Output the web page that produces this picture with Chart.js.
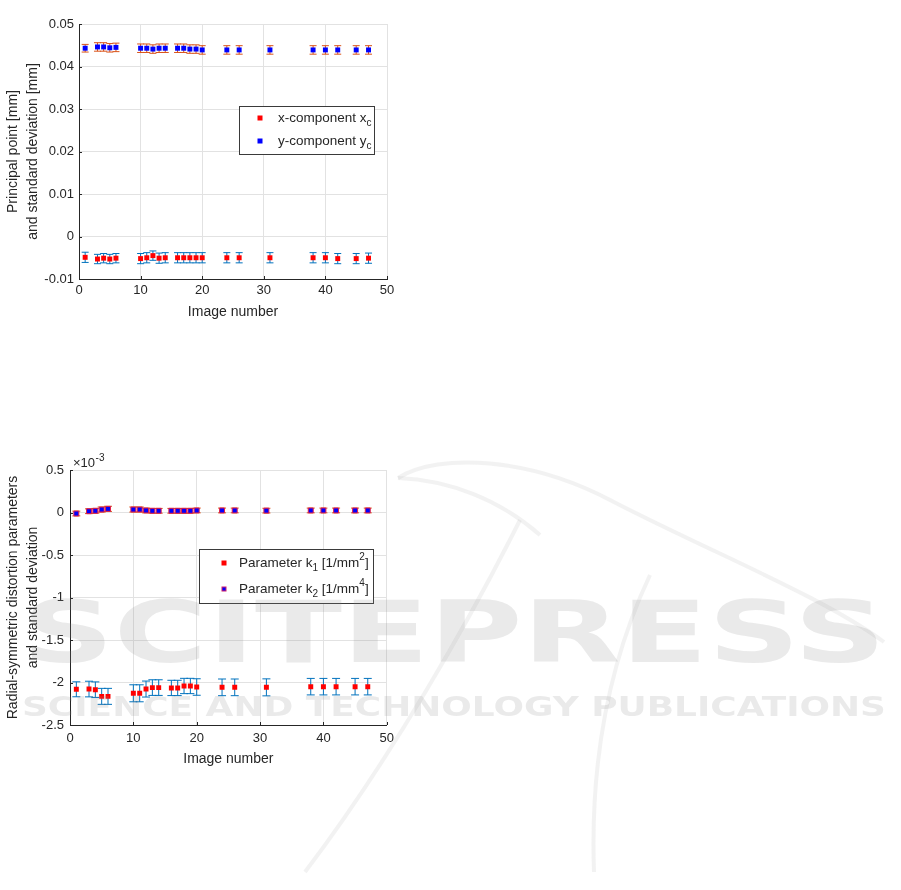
<!DOCTYPE html>
<html>
<head>
<meta charset="utf-8">
<script src="https://cdn.jsdelivr.net/npm/chart.js@4.4.1/dist/chart.umd.min.js"></script>
<style>
  html, body { margin: 0; padding: 0; background: #fff; width: 901px; height: 890px; overflow: hidden; }
  canvas { position: absolute; left: 0; }
  #c1 { top: 0; }
  #c2 { top: 440px; }
  #wm { position: absolute; left: 0; top: 0; pointer-events: none; }
</style>
</head>
<body>
<canvas id="c1" width="400" height="330" style="width:400px;height:330px"></canvas>
<canvas id="c2" width="400" height="330" style="width:400px;height:330px"></canvas>
<svg id="wm" width="901" height="890" viewBox="0 0 901 890">
  <g fill="none" stroke="#8c8c8c" stroke-opacity="0.11" stroke-width="4">
    <path d="M 398 478 C 440 452, 530 458, 610 500 C 710 552, 820 595, 884 642"/>
    <path d="M 398 478 C 450 480, 500 500, 540 535"/>
    <path d="M 520 520 C 470 620, 390 760, 305 872"/>
    <path d="M 650 575 C 610 660, 590 760, 594 872"/>
  </g>
  <g fill="#8c8c8c" fill-opacity="0.18" font-family="DejaVu Sans" font-weight="bold">
    <text x="22" y="662" font-size="86" textLength="864" lengthAdjust="spacingAndGlyphs">SCITEPRESS</text>
    <text x="22" y="716" font-size="27" textLength="864" lengthAdjust="spacingAndGlyphs">SCIENCE AND TECHNOLOGY PUBLICATIONS</text>
  </g>
</svg>
<script>
"use strict";
const FONT = "'Liberation Sans', Arial, sans-serif";
const INK = "#262626";
const GRID = "#e2e2e2";

// image numbers (x axis, both charts)
const IMAGES = [1, 3, 4, 5, 6, 10, 11, 12, 13, 14, 16, 17, 18, 19, 20, 24, 26, 31, 38, 40, 42, 45, 47];
const X_TICKS = [0, 10, 20, 30, 40, 50];

// chart 1: principal point [mm]
const XC     = [-0.0049, -0.0053, -0.0051, -0.0053, -0.0051, -0.0052, -0.0050, -0.0045, -0.0051, -0.0050, -0.0050, -0.0050, -0.0050, -0.0050, -0.0050, -0.0050, -0.0050, -0.0050, -0.0050, -0.0050, -0.0052, -0.0052, -0.0051];
const XC_STD = [0.0012, 0.0011, 0.0011, 0.0011, 0.0011, 0.0012, 0.0012, 0.0011, 0.0012, 0.0012, 0.0012, 0.0012, 0.0012, 0.0012, 0.0012, 0.0012, 0.0012, 0.0012, 0.0012, 0.0012, 0.0012, 0.0012, 0.0012];
const YC     = [0.0443, 0.0446, 0.0446, 0.0444, 0.0445, 0.0443, 0.0443, 0.0441, 0.0443, 0.0443, 0.0443, 0.0443, 0.0441, 0.0441, 0.0439, 0.0439, 0.0439, 0.0439, 0.0439, 0.0439, 0.0439, 0.0439, 0.0439];
const YC_STD = [0.0009, 0.0010, 0.0010, 0.0010, 0.0010, 0.0010, 0.0010, 0.0010, 0.0010, 0.0010, 0.0010, 0.0010, 0.0010, 0.0010, 0.0010, 0.0010, 0.0010, 0.0010, 0.0010, 0.0010, 0.0010, 0.0010, 0.0010];
const Y1_TICKS  = [-0.01, 0, 0.01, 0.02, 0.03, 0.04, 0.05];
const Y1_LABELS = ["-0.01", "0", "0.01", "0.02", "0.03", "0.04", "0.05"];

// chart 2: radial-symmetric distortion (x 10^-3)
const K1     = [-2.080, -2.077, -2.085, -2.163, -2.163, -2.127, -2.127, -2.077, -2.060, -2.060, -2.064, -2.064, -2.041, -2.041, -2.053, -2.057, -2.057, -2.057, -2.049, -2.049, -2.049, -2.049, -2.049];
const K1_STD = [0.088, 0.092, 0.092, 0.094, 0.094, 0.100, 0.100, 0.094, 0.092, 0.092, 0.090, 0.090, 0.090, 0.090, 0.097, 0.098, 0.098, 0.100, 0.097, 0.097, 0.097, 0.097, 0.097];
const K2     = [-0.012, 0.015, 0.020, 0.035, 0.043, 0.035, 0.035, 0.024, 0.020, 0.020, 0.020, 0.020, 0.020, 0.020, 0.024, 0.024, 0.024, 0.022, 0.024, 0.024, 0.024, 0.024, 0.024];
const K2_STD = [0.028, 0.028, 0.028, 0.030, 0.030, 0.030, 0.030, 0.028, 0.028, 0.028, 0.028, 0.028, 0.028, 0.028, 0.028, 0.028, 0.028, 0.028, 0.028, 0.028, 0.028, 0.028, 0.028];
const Y2_TICKS  = [-2.5, -2, -1.5, -1, -0.5, 0, 0.5];
const Y2_LABELS = ["-2.5", "-2", "-1.5", "-1", "-0.5", "0", "0.5"];

const pts = ys => IMAGES.map((x, i) => ({ x, y: ys[i] }));

// error bars drawn through the chart's own scales
const errorBars = {
  id: "errorBars",
  beforeDatasetsDraw(chart) {
    const { ctx, scales: { x, y } } = chart;
    chart.data.datasets.forEach(ds => {
      if (!ds.errors) return;
      ctx.save();
      ctx.strokeStyle = ds.errorColor;
      ctx.lineWidth = 1;
      const cap = ds.capHalf || 3.5;
      ds.data.forEach((p, i) => {
        const px = x.getPixelForValue(p.x);
        const top = y.getPixelForValue(p.y + ds.errors[i]);
        const bot = y.getPixelForValue(p.y - ds.errors[i]);
        ctx.beginPath();
        ctx.moveTo(px, top); ctx.lineTo(px, bot);
        ctx.moveTo(px - cap, top); ctx.lineTo(px + cap, top);
        ctx.moveTo(px - cap, bot); ctx.lineTo(px + cap, bot);
        ctx.stroke();
      });
      ctx.restore();
    });
  }
};

// inward tick marks, legend box with sub/superscripts, exponent label
const matlabDecor = {
  id: "matlabDecor",
  afterDraw(chart, args, opts) {
    const { ctx, chartArea: a, scales: { x, y } } = chart;
    ctx.save();
    ctx.strokeStyle = INK;
    ctx.lineWidth = 1;
    ctx.beginPath();
    x.ticks.forEach(t => {
      const px = Math.round(x.getPixelForValue(t.value)) + 0.5;
      ctx.moveTo(px, a.bottom); ctx.lineTo(px, a.bottom - 3);
    });
    y.ticks.forEach(t => {
      const py = Math.round(y.getPixelForValue(t.value)) + 0.5;
      ctx.moveTo(a.left, py); ctx.lineTo(a.left + 3, py);
    });
    ctx.stroke();

    if (opts.legend) {
      const L = opts.legend;
      ctx.fillStyle = "#fff";
      ctx.fillRect(L.x, L.y, L.w, L.h);
      ctx.strokeStyle = "#3a3a3a";
      ctx.strokeRect(L.x + 0.5, L.y + 0.5, L.w, L.h);
      L.items.forEach((it, i) => {
        const cy = L.y + L.row0 + i * L.rowGap;
        ctx.fillStyle = it.border || it.color;
        ctx.fillRect(L.markerX - 2.5, cy - 2.5, 5, 5);
        ctx.fillStyle = it.color;
        if (it.border) ctx.fillRect(L.markerX - 1.5, cy - 1.5, 3, 3);
        let tx = L.textX;
        ctx.fillStyle = INK;
        ctx.textBaseline = "middle";
        ctx.textAlign = "left";
        it.parts.forEach(p => {
          const size = p.sub || p.sup ? 10 : 13.5;
          ctx.font = size + "px " + FONT;
          const dy = p.sub ? 5 : (p.sup ? -6 : 0);
          ctx.fillText(p.t, tx, cy + dy);
          tx += ctx.measureText(p.t).width;
        });
      });
    }

    if (opts.exponent) {
      ctx.fillStyle = INK;
      ctx.textBaseline = "alphabetic";
      ctx.textAlign = "left";
      ctx.font = "13px " + FONT;
      const bx = a.left + 3, by = a.top - 3;
      ctx.fillText("\u00d710", bx, by);
      const w = ctx.measureText("\u00d710").width;
      ctx.font = "10px " + FONT;
      ctx.fillText(opts.exponent, bx + w + 0.5, by - 6);
    }
    ctx.restore();
  }
};

function makeChart(id, cfg) {
  return new Chart(document.getElementById(id).getContext("2d"), {
    type: "scatter",
    data: { datasets: cfg.datasets },
    plugins: [errorBars, matlabDecor],
    options: {
      responsive: false,
      animation: false,
      layout: { padding: { top: cfg.padTop, right: 13, left: 0, bottom: 0 } },
      plugins: {
        legend: { display: false },
        tooltip: { enabled: false },
        matlabDecor: { legend: cfg.legend, exponent: cfg.exponent }
      },
      scales: {
        x: {
          type: "linear", min: 0, max: 50,
          afterBuildTicks: s => { s.ticks = X_TICKS.map(v => ({ value: v })); },
          afterFit: s => { s.height = cfg.xHeight; },
          ticks: { color: INK, font: { family: FONT, size: 13 }, padding: cfg.xTickPad, maxRotation: 0, callback: (v, i) => String(X_TICKS[i]) },
          grid: { color: GRID, drawTicks: false },
          border: { color: INK, width: 1 },
          title: { display: true, text: "Image number", color: INK, font: { family: FONT, size: 14 }, padding: { top: 0, bottom: cfg.xTitlePad } }
        },
        y: {
          type: "linear", min: cfg.yTicks[0], max: cfg.yTicks[cfg.yTicks.length - 1],
          afterBuildTicks: s => { s.ticks = cfg.yTicks.map(v => ({ value: v })); },
          afterFit: s => { s.width = cfg.yWidth; },
          ticks: { color: INK, font: { family: FONT, size: 13 }, padding: cfg.yTickPad, callback: (v, i) => cfg.yLabels[i] },
          grid: { color: GRID, drawTicks: false },
          border: { color: INK, width: 1 },
          title: { display: true, text: cfg.yTitle, color: INK, font: { family: FONT, size: 14, lineHeight: 1.45 }, padding: { top: 3, bottom: 0 } }
        }
      }
    }
  });
}

makeChart("c1", {
  padTop: 24, xHeight: 51, xTickPad: 4, xTitlePad: 9, yWidth: 79, yTickPad: 5,
  yTicks: Y1_TICKS, yLabels: Y1_LABELS,
  yTitle: ["Principal point [mm]", "and standard deviation [mm]"],
  datasets: [
    { label: "x-component xc", data: pts(XC), errors: XC_STD, errorColor: "rgb(0,114,189)", capHalf: 3.5,
      pointStyle: "rect", pointRadius: 3.5, backgroundColor: "#ff0000", borderColor: "#ff0000", borderWidth: 0 },
    { label: "y-component yc", data: pts(YC), errors: YC_STD, errorColor: "rgb(217,83,25)", capHalf: 3.5,
      pointStyle: "rect", pointRadius: 3.5, backgroundColor: "#0000ff", borderColor: "#0000ff", borderWidth: 0 }
  ],
  legend: {
    x: 239, y: 106, w: 135, h: 48, row0: 12, rowGap: 23, markerX: 260, textX: 278,
    items: [
      { color: "#ff0000", parts: [{ t: "x-component x" }, { t: "c", sub: true }] },
      { color: "#0000ff", parts: [{ t: "y-component y" }, { t: "c", sub: true }] }
    ]
  }
});

makeChart("c2", {
  padTop: 30, xHeight: 45, xTickPad: 6, xTitlePad: 2, yWidth: 70, yTickPad: 6,
  yTicks: Y2_TICKS, yLabels: Y2_LABELS,
  yTitle: ["Radial-symmetric distortion parameters", "and standard deviation"],
  exponent: "-3",
  datasets: [
    { label: "Parameter k1", data: pts(K1), errors: K1_STD, errorColor: "rgb(0,114,189)", capHalf: 4,
      pointStyle: "rect", pointRadius: 3.5, backgroundColor: "#ff0000", borderColor: "#ff0000", borderWidth: 0 },
    { label: "Parameter k2", data: pts(K2), errors: K2_STD, errorColor: "rgb(217,83,25)", capHalf: 4,
      pointStyle: "rect", pointRadius: 3.5, backgroundColor: "#0000ff", borderColor: "#e0204a", borderWidth: 1 }
  ],
  legend: {
    x: 199, y: 109, w: 174, h: 54, row0: 14, rowGap: 26, markerX: 224, textX: 239,
    items: [
      { color: "#ff0000", parts: [{ t: "Parameter k" }, { t: "1", sub: true }, { t: " [1/mm" }, { t: "2", sup: true }, { t: "]" }] },
      { color: "#0000ff", border: "#d0206a", parts: [{ t: "Parameter k" }, { t: "2", sub: true }, { t: " [1/mm" }, { t: "4", sup: true }, { t: "]" }] }
    ]
  }
});
</script>
</body>
</html>
